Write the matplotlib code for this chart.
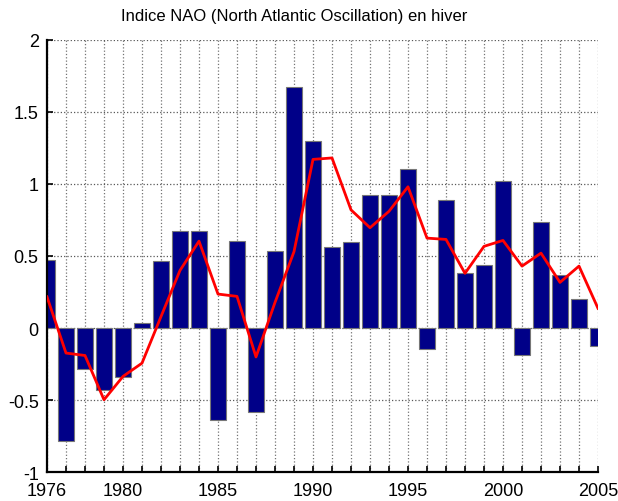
import matplotlib
matplotlib.use('Agg')
import matplotlib.pyplot as plt
import numpy as np

years = list(range(1976, 2006))
nao = [0.47, -0.786, -0.287, -0.43, -0.338, 0.035, 0.467, 0.67, 0.67, -0.64,
       0.603, -0.585, 0.534, 1.671, 1.30, 0.56, 0.60, 0.92, 0.92, 1.10,
       -0.143, 0.886, 0.384, 0.435, 1.02, -0.19, 0.737, 0.368, 0.199, -0.125]
smooth = [0.217, -0.173, -0.19, -0.497, -0.335, -0.243, 0.08, 0.40, 0.603, 0.236,
          0.22, -0.2, 0.178, 0.53, 1.17, 1.18, 0.82, 0.696, 0.81, 0.98,
          0.624, 0.615, 0.38, 0.567, 0.608, 0.43, 0.52, 0.317, 0.43, 0.137]
ytick_vals = [-1, -0.5, 0, 0.5, 1, 1.5, 2]
ytick_labels = ['-1', '-0.5', '0', '0.5', '1', '1.5', '2']
xtick_labels = [1976, 1980, 1985, 1990, 1995, 2000, 2005]

plt.rcParams['font.family'] = ['Liberation Sans', 'DejaVu Sans']

fig = plt.figure(figsize=(6.18, 5.02), dpi=100)
ax = fig.add_axes([47/618, 1 - 473.3/502, (598 - 47)/618, (473.3 - 40.7)/502])

ax.bar(years, nao, width=0.8, color='#000088', edgecolor='#777777', linewidth=0.8, zorder=2)
ax.plot(years, smooth, color='red', linewidth=2, zorder=3)

ax.set_xlim(1976, 2005)
ax.set_ylim(-1, 2)
ax.set_xticks(years, minor=True)
ax.set_xticks(xtick_labels)
ax.set_xticklabels([str(y) for y in xtick_labels])
ax.set_yticks(ytick_vals)
ax.set_yticklabels(ytick_labels)

ax.grid(True, which='both', axis='x', linestyle=':', color='0.45', linewidth=0.9, zorder=0)
ax.grid(True, which='major', axis='y', linestyle=':', color='0.35', linewidth=0.9, zorder=0)
ax.set_axisbelow(True)

for s in ['top', 'right']:
    ax.spines[s].set_visible(False)
for s in ['left', 'bottom']:
    ax.spines[s].set_linewidth(1.6)

ax.tick_params(axis='both', which='both', direction='in', length=4, width=1.2, labelsize=13)
ax.tick_params(axis='x', pad=7)
ax.tick_params(axis='y', pad=6)

fig.text(294/618, 1 - 17/502, 'Indice NAO (North Atlantic Oscillation) en hiver',
         ha='center', va='center', fontsize=12)

fig.savefig('out.png', dpi=100)
